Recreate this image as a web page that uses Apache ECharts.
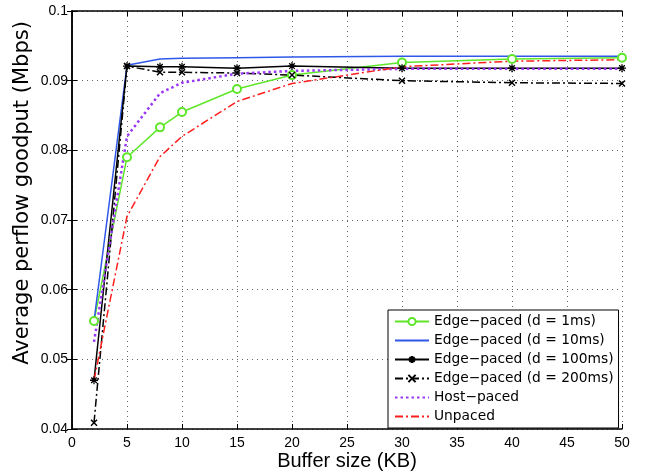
<!DOCTYPE html>
<html><head><meta charset="utf-8">
<script src="https://cdn.jsdelivr.net/npm/echarts@6/dist/echarts.min.js"></script>
<style>html,body{margin:0;padding:0;background:#fff}#c{width:648px;height:476px}</style>
</head><body><div id="c"></div>
<script>
const bufferSizes = [2, 5, 8, 10, 15, 20, 30, 40, 50];
const edge1ms   = [0.0555, 0.0790, 0.0833, 0.0855, 0.0888, 0.0908, 0.0926, 0.0931, 0.0933];
const edge10ms  = [0.0555, 0.0922, 0.0931, 0.0932, 0.0933, 0.0934, 0.0935, 0.0935, 0.0935];
const edge100ms = [0.0470, 0.0921, 0.0920, 0.0920, 0.0918, 0.0921, 0.0918, 0.0918, 0.0918];
const edge200ms = [0.0409, 0.0921, 0.0912, 0.0912, 0.0911, 0.0908, 0.0900, 0.0897, 0.0896];
const hostPaced = [0.0525, 0.0820, 0.0882, 0.0897, 0.0910, 0.0914, 0.0917, 0.0917, 0.0917];
const unpaced   = [0.0470, 0.0705, 0.0791, 0.0820, 0.0870, 0.0896, 0.0920, 0.0928, 0.0930];
const seriesNames = ['Edge\u2212paced (d = 1ms)', 'Edge\u2212paced (d = 10ms)', 'Edge\u2212paced (d = 100ms)', 'Edge\u2212paced (d = 200ms)', 'Host\u2212paced', 'Unpaced'];
const xAxisTitle = 'Buffer size (KB)';
const yAxisTitle = 'Average perflow goodput (Mbps)';

const FONT = 'Liberation Sans, Arial, Helvetica, sans-serif';
const WIDEFONT = 'DejaVu Sans, Liberation Sans, sans-serif';
const pairs = arr => bufferSizes.map((x, i) => [x, arr[i]]);
const GREEN = '#5fe62a', BLUE = '#3058e8', PURPLE = '#9a36f5', RED = '#ff1f1f';

const asterisk = 'path://M5,0L5,10M0,5L10,5M1.5,1.5L8.5,8.5M8.5,1.5L1.5,8.5M3.2,5a1.8,1.8 0 1,0 3.6,0a1.8,1.8 0 1,0 -3.6,0Z';
const cross = 'path://M0,0L10,10M10,0L0,10';

const axisCommon = {
  axisLine: {show: true, lineStyle: {color: '#000', width: 1.5}},
  axisTick: {show: true, inside: true, length: 5, lineStyle: {color: '#000', width: 1}},
};

const noSymbol = new Set([1, 4, 5]);
const legendData = seriesNames.map((n, i) => noSymbol.has(i) ? {name: n, itemStyle: {opacity: 0}} : {name: n});

const chart = echarts.init(document.getElementById('c'), null, {renderer: 'canvas'});
chart.setOption({
  animation: false,
  backgroundColor: '#fff',
  grid: {left: 72, right: 26, top: 11, bottom: 43, containLabel: false},
  xAxis: [
    Object.assign({
      type: 'value', min: 0, max: 50, interval: 5, position: 'bottom',
      name: xAxisTitle, nameLocation: 'middle', nameGap: 22, nameMoveOverlap: false,
      nameTextStyle: {fontFamily: FONT, fontSize: 20, color: '#000'},
      axisLabel: {fontFamily: FONT, fontSize: 14, color: '#000', margin: 7},
      splitLine: {show: true, lineStyle: {color: '#666', type: [1, 4], width: 1}}
    }, axisCommon),
    Object.assign({
      type: 'value', min: 0, max: 50, interval: 5, position: 'top',
      axisLabel: {show: false}, splitLine: {show: false}
    }, axisCommon)
  ],
  yAxis: [
    Object.assign({
      type: 'value', min: 0.04, max: 0.1, interval: 0.01, position: 'left',
      name: yAxisTitle, nameLocation: 'middle', nameGap: 39, nameMoveOverlap: false,
      nameTextStyle: {fontFamily: WIDEFONT, fontSize: 21, color: '#000', padding: [0, 0, 0, 54]},
      axisLabel: {fontFamily: FONT, fontSize: 14, color: '#000', margin: 4,
        formatter: v => String(+v.toFixed(2))},
      splitLine: {show: true, lineStyle: {color: '#666', type: [1, 4], width: 1}}
    }, axisCommon),
    Object.assign({
      type: 'value', min: 0.04, max: 0.1, interval: 0.01, position: 'right',
      axisLabel: {show: false}, splitLine: {show: false}
    }, axisCommon)
  ],
  legend: {
    orient: 'vertical', left: 388, top: 310,
    backgroundColor: '#fff', borderColor: '#000', borderWidth: 1,
    padding: [2, 5, 2, 6], itemWidth: 34, itemHeight: 9, itemGap: 0,
    textStyle: {fontFamily: WIDEFONT, fontSize: 13.8, lineHeight: 19, color: '#000'},
    data: legendData
  },
  series: [
    {name: seriesNames[0], type: 'line', data: pairs(edge1ms),
     symbol: 'emptyCircle', symbolSize: 8,
     lineStyle: {color: GREEN, width: 1.5},
     itemStyle: {color: GREEN, borderColor: GREEN, borderWidth: 1.5}},
    {name: seriesNames[1], type: 'line', data: pairs(edge10ms),
     symbol: 'none',
     lineStyle: {color: BLUE, width: 1.5}, itemStyle: {color: BLUE}},
    {name: seriesNames[2], type: 'line', data: pairs(edge100ms),
     symbol: asterisk, symbolSize: 8,
     lineStyle: {color: '#000', width: 1.5},
     itemStyle: {color: '#000', borderColor: '#000', borderWidth: 1.3}},
    {name: seriesNames[3], type: 'line', data: pairs(edge200ms),
     symbol: cross, symbolSize: 6,
     lineStyle: {color: '#000', width: 1.5, type: [8, 3, 2, 3]},
     itemStyle: {color: '#000', borderColor: '#000', borderWidth: 1.5}},
    {name: seriesNames[4], type: 'line', data: pairs(hostPaced),
     symbol: 'none',
     lineStyle: {color: PURPLE, width: 2.5, type: [2.5, 3]}, itemStyle: {color: PURPLE}},
    {name: seriesNames[5], type: 'line', data: pairs(unpaced),
     symbol: 'none',
     lineStyle: {color: RED, width: 1.5, type: [8, 3, 2, 3]}, itemStyle: {color: RED}}
  ]
});
</script>
</body></html>
